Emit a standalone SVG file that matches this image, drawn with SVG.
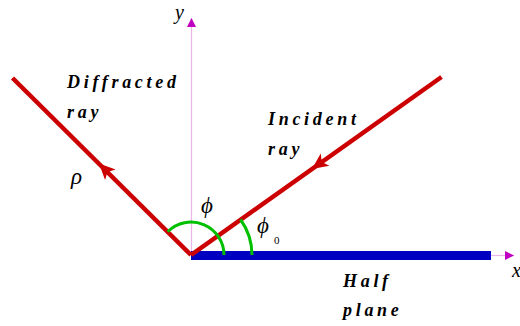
<svg xmlns="http://www.w3.org/2000/svg" width="520" height="326" viewBox="0 0 520 326">
<defs>
<style>
.ray{fill:none;stroke:#cc0000;stroke-width:4.5;stroke-linecap:butt}
.axis{fill:none;stroke:#ebb4eb;stroke-width:1.2}
.arc{fill:none;stroke:#00c000;stroke-width:3}
.head{fill:#cc0000}
.lbl{font-style:italic;font-weight:bold;font-size:18px;letter-spacing:3.7px}
.sym{font-style:italic;font-size:23px}
.ax{font-style:italic;font-size:20px}
.sub{font-size:11px}
</style>
<path id="arrowhead" d="M0,0 L-16,-7.5 L-12,0 L-16,7.5 z"/>
<marker id="am" viewBox="0 0 10 10" refX="10" refY="5" markerWidth="10" markerHeight="9" markerUnits="userSpaceOnUse" orient="auto">
<path d="M0,0 L10,5 L0,10 z" fill="#c000c0"/>
</marker>
</defs>
<rect width="520" height="326" fill="#fff"/>
<g font-family="Liberation Serif, Times New Roman, serif" fill="#000">
<g id="axes">
<line class="axis" x1="191.5" y1="255" x2="191.5" y2="18" marker-end="url(#am)"/>
<line class="axis" x1="491" y1="255.5" x2="514" y2="255.5" marker-end="url(#am)"/>
<text class="ax" x="175" y="19">y</text>
<text class="ax" x="512" y="277">x</text>
</g>
<g id="half-plane">
<rect x="191" y="251" width="300" height="9" fill="#0000c0"/>
<text class="lbl" x="343" y="287">Half</text>
<text class="lbl" x="343" y="316">plane</text>
</g>
<g id="connectors">
<path class="ray" d="M191,255 L12.5,78"/>
<use href="#arrowhead" class="head" transform="translate(99,163.5) rotate(-135.2)"/>
<path class="ray" d="M441.5,77 L191,255"/>
<use href="#arrowhead" class="head" transform="translate(312,169) rotate(144.6)"/>
</g>
<g id="diffracted-ray">
<text class="lbl" x="67" y="88">Diffracted</text>
<text class="lbl" x="67" y="118">ray</text>
<text class="sym" x="71" y="184">ρ</text>
</g>
<g id="incident-ray">
<text class="lbl" x="268" y="125">Incident</text>
<text class="lbl" x="268" y="155">ray</text>
</g>
<g id="angle-phi">
<path class="arc" d="M224,255 A33,33 0 0 0 167.7,231.7"/>
<text class="sym" x="201" y="213">ϕ</text>
</g>
<g id="angle-phi0">
<path class="arc" d="M252,255 A61,61 0 0 0 240.5,219.5"/>
<text class="sym" x="257" y="233">ϕ</text>
<text class="sub" x="274" y="244">0</text>
</g>
</g>
</svg>
